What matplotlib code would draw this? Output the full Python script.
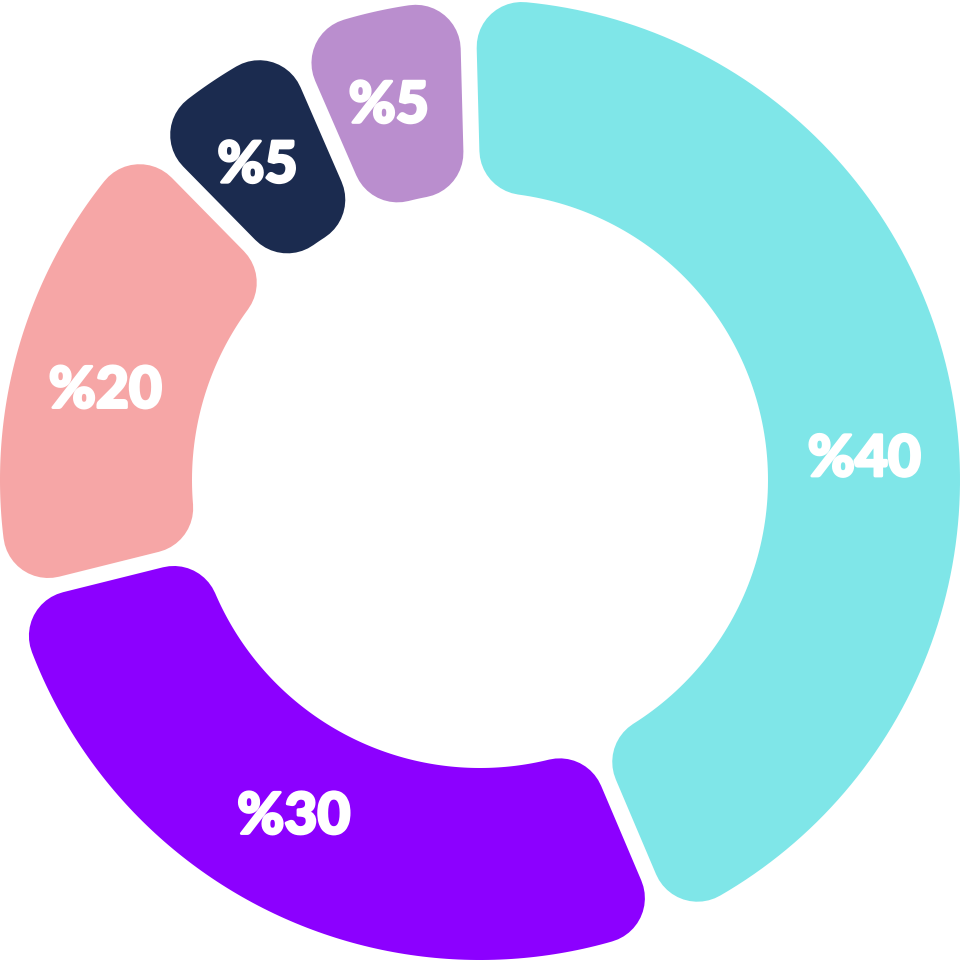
import numpy as np
import matplotlib
matplotlib.use("Agg")
import matplotlib.pyplot as plt
import matplotlib.patheffects as pe
from matplotlib.patches import Polygon


# arc spans (degrees, clockwise from the top)
labels = ["%40", "%30", "%20", "%5", "%5"]
spans = [158.5, 99.0, 59.5, 21.0, 22.0]
colors = ["#7FE6E8", "#8C00FF", "#F6A6A6", "#1B2B4F", "#BA8ECE"]

start = 91.5
R = 480.0      # outer radius (px)
r0 = 288.0     # inner radius (px)
corner = 45.0  # rounding of corners (px)
gap = 16.0     # space between pieces (px)
label_r = 385.0
label_shift = [-9.2, -2.4, 2.4, 1.3, 1.2]

dpi = 100
fig = plt.figure(figsize=(9.6, 9.6), dpi=dpi)
ax = fig.add_axes([0, 0, 1, 1])
ax.set_xlim(-480, 480)
ax.set_ylim(-480, 480)
ax.set_aspect("equal")
ax.axis("off")


def piece(a1, a2):
    # a1 > a2, shape shrunk by the corner radius, stroked back out with round joins
    ro = R - corner
    ri = r0 + corner
    d = gap / 2 + corner
    t1 = a1 - np.degrees(np.arcsin(d / ro))
    t2 = a2 + np.degrees(np.arcsin(d / ro))
    u1 = a1 - np.degrees(np.arcsin(d / ri))
    u2 = a2 + np.degrees(np.arcsin(d / ri))
    to = np.radians(np.linspace(t1, t2, 120))
    ti = np.radians(np.linspace(u2, u1, 120))
    xs = np.concatenate([ro * np.cos(to), ri * np.cos(ti)])
    ys = np.concatenate([ro * np.sin(to), ri * np.sin(ti)])
    return np.column_stack([xs, ys])


lw = 2 * corner * 72 / dpi
a = start
for lab, s, col, sh in zip(labels, spans, colors, label_shift):
    a1, a2 = a, a - s
    poly = Polygon(piece(a1, a2), closed=True, facecolor=col, edgecolor=col,
                   linewidth=lw, joinstyle="round")
    ax.add_patch(poly)
    mid = np.radians((a1 + a2) / 2 + sh)
    ax.text(label_r * np.cos(mid), label_r * np.sin(mid), lab,
            ha="center", va="center", color="white", fontsize=41,
            fontweight="black", family=["Lato", "DejaVu Sans"],
            path_effects=[pe.withStroke(linewidth=2, foreground="white",
                                        joinstyle="round")])
    a = a2

fig.savefig("out.png", dpi=dpi, facecolor="white")
